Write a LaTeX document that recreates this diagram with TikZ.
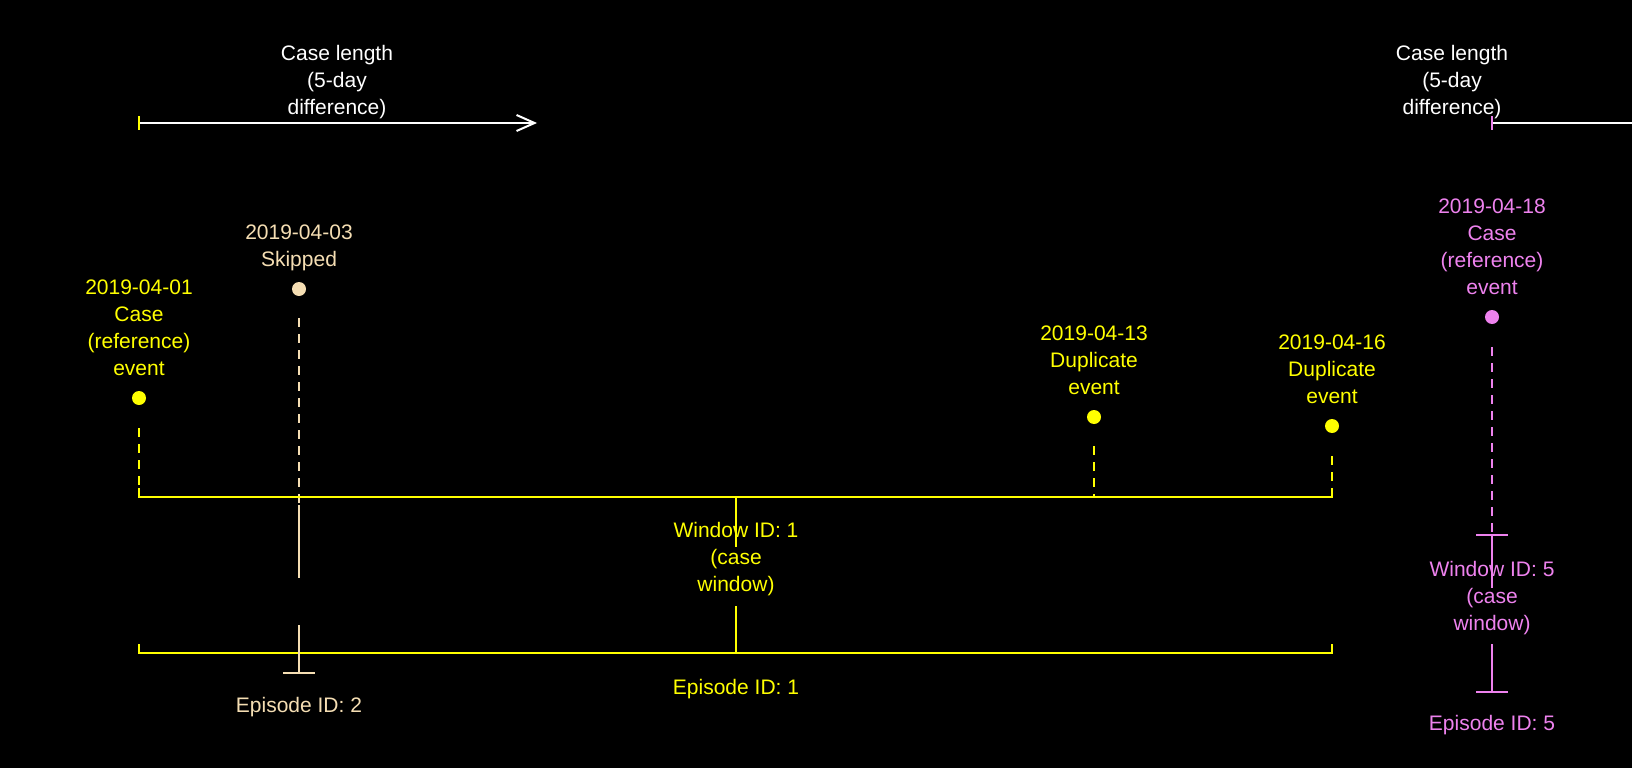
\documentclass[tikz,border=0pt]{standalone}
\usepackage{fontspec}
\setmainfont{Liberation Sans}
\usetikzlibrary{arrows.meta,positioning}
\definecolor{casey}{HTML}{FFFF00}
\definecolor{skipc}{HTML}{F5DEB3}
\definecolor{casev}{HTML}{EE82EE}

\begin{document}
\begin{tikzpicture}[x=1pt,y=-1pt,line width=2pt]
        \tikzset{
    lbl/.style={font=\fontsize{21}{27}\selectfont, align=center, inner sep=0pt, anchor=south, text depth=0pt},
    dot/.style={circle,fill,minimum size=14pt,inner sep=0pt},
    link/.style={dash pattern=on 8.5pt off 7.5pt},
    bar/.style={line cap=butt},
        }
        \fill[black] (0,0) rectangle (1632,768);
        \useasboundingbox (0,0) rectangle (1632,768);

        \coordinate (c1) at (139,123);  % case length, episode 1
        \coordinate (c1e) at (537,123);
        \coordinate (c5) at (1492,123); % case length, episode 5
        \coordinate (c5e) at (1632,123);
        \coordinate (w1l) at (139,497);  % case window 1
        \coordinate (w1r) at (1332,497);
        \coordinate (w1c) at (736,497);
        \coordinate (w1d) at (1094,497);
        \coordinate (p1l) at (139,653);  % episode 1
        \coordinate (p1r) at (1332,653);
        \coordinate (p1c) at (736,653);
        \coordinate (s2) at (299,505);   % skipped record
        \coordinate (p2) at (299,673);
        \coordinate (w5) at (1492,535);  % case window 5
        \coordinate (p5) at (1492,692);

        % Case length arrows first.
        \draw[white,-{Straight Barb[length=18pt,width=16pt]}] (c1) -- (c1e);
        \draw[casey] ([yshift=7pt]c1) -- ([yshift=-7pt]c1);
        \node[lbl,white] at (337,115.5) {Case length\\(5-day\\difference)};
        \draw[white] (c5) -- (c5e);
        \draw[casev] ([yshift=7pt]c5) -- ([yshift=-7pt]c5);
        \node[lbl,white] at (1452,115.5) {Case length\\(5-day\\difference)};

        % Then the events with their labels.
        \node[dot,casey] (e1) at (139,398) {};
        \node[lbl,casey,above=14pt of e1] (l1) {2019-04-01\\Case\\(reference)\\event};
        \node[dot,skipc] (e2) at (299,289) {};
        \node[lbl,skipc,above=14pt of e2] (l2) {2019-04-03\\Skipped};
        \node[dot,casey] (e3) at (1094,417) {};
        \node[lbl,casey,above=14pt of e3] (l3) {2019-04-13\\Duplicate\\event};
        \node[dot,casey] (e4) at (1332,426) {};
        \node[lbl,casey,above=14pt of e4] (l4) {2019-04-16\\Duplicate\\event};
        \node[dot,casev] (e5) at (1492,317) {};
        \node[lbl,casev,above=14pt of e5] (l5) {2019-04-18\\Case\\(reference)\\event};

        % Dashed links down to the windows.
        \draw[casey,link] ([yshift=-22pt]e1.south) -- (w1l);
        \draw[skipc,link] ([yshift=-21pt]e2.south) -- ([yshift=2pt]s2);
        \draw[casey,link] ([yshift=-21pt]e3.south) -- (w1d);
        \draw[casey,link] ([yshift=-22pt]e4.south) -- (w1r);
        \draw[casev,link] ([yshift=-22pt]e5.south) -- (w5);

        % Window and episode of the first case.
        \draw[casey] ([yshift=9pt]w1l) -- (w1l) -- (w1r) -- ([yshift=9pt]w1r);
        \draw[casey] ([yshift=9pt]p1l) -- (p1l) -- (p1r) -- ([yshift=9pt]p1r);
        \draw[casey] (w1c) -- ++(0,50);
        \draw[casey] (p1c) -- ++(0,-47);
        \node[lbl,casey] (wl1) at (736,592) {Window ID: 1\\(case\\window)};
        \node[lbl,casey] (pl1) at (736,695.5) {Episode ID: 1};

        % Skipped record.
        \draw[skipc] (s2) -- ++(0,73);
        \draw[skipc] (p2) -- ++(0,-48);
        \draw[skipc,bar] ([xshift=-16pt]p2) -- ([xshift=16pt]p2);
        \node[lbl,skipc] (pl2) at (299,713.5) {Episode ID: 2};

        % Window and episode of the last case.
        \draw[casev,bar] ([xshift=-16pt]w5) -- ([xshift=16pt]w5);
        \draw[casev] (w5) -- ++(0,53);
        \draw[casev,bar] ([xshift=-16pt]p5) -- ([xshift=16pt]p5);
        \draw[casev] (p5) -- ++(0,-48);
        \node[lbl,casev] (wl5) at (1492,631) {Window ID: 5\\(case\\window)};
        \node[lbl,casev] (pl5) at (1492,731.5) {Episode ID: 5};
\end{tikzpicture}
\end{document}
